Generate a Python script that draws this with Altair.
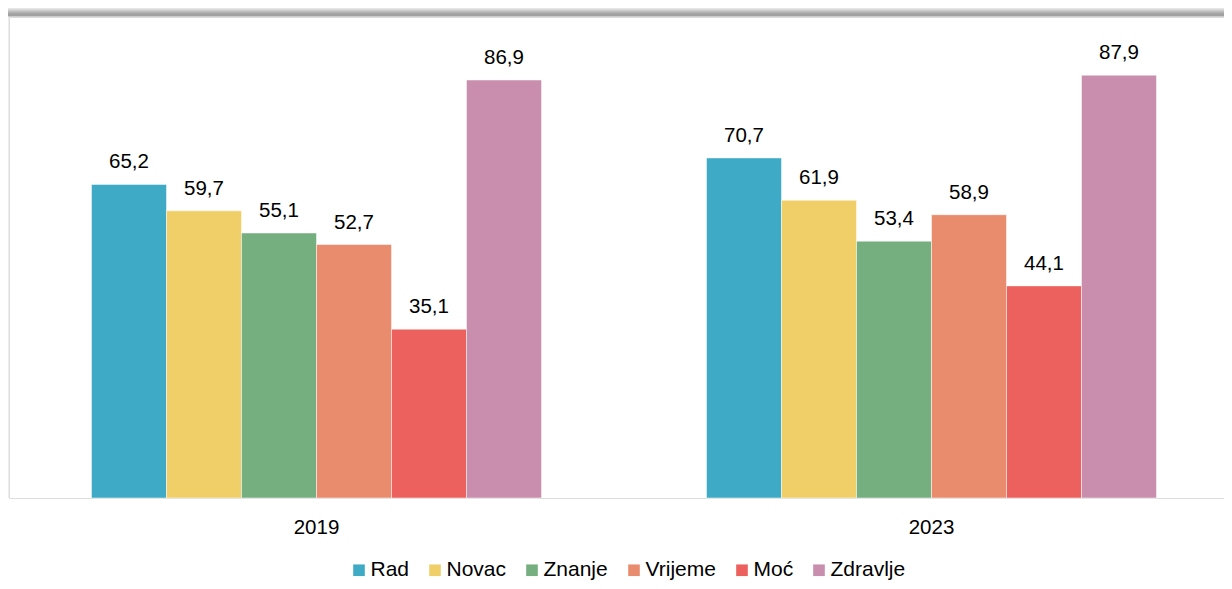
import altair as alt
import pandas as pd

years = ["2019", "2023"]
series = ["Rad", "Novac", "Znanje", "Vrijeme", "Moć", "Zdravlje"]
colors = ["#3EAAC6", "#F0CF68", "#75AF80", "#E98C6E", "#EC605D", "#C98DAD"]
values_2019 = [65.2, 59.7, 55.1, 52.7, 35.1, 86.9]
values_2023 = [70.7, 61.9, 53.4, 58.9, 44.1, 87.9]

rows = []
for s, v in zip(series, values_2019):
    rows.append({"year": "2019", "series": s, "value": v, "label": f"{v:.1f}".replace(".", ",")})
for s, v in zip(series, values_2023):
    rows.append({"year": "2023", "series": s, "value": v, "label": f"{v:.1f}".replace(".", ",")})
df = pd.DataFrame(rows)

W, H = 1215, 481
FONT = "Liberation Sans"

# frame shadow (decorative)
top_off = [-1, -2, -3, -4, -5, -6, -7, -8, -9, -10, -11, -12]
top_op = [0.40, 0.42, 0.40, 0.36, 0.30, 0.24, 0.18, 0.12, 0.08, 0.05, 0.03, 0.015]
left_off = [-1, -2, -3, -4, -5, -6]
left_op = [0.14, 0.11, 0.08, 0.05, 0.03, 0.015]
top_df = pd.DataFrame({"off": top_off, "op": top_op, "x0": [-6] * len(top_off), "x1": [W] * len(top_off)})
left_df = pd.DataFrame({"off": left_off, "op": left_op, "y0": [0] * len(left_off), "y1": [H] * len(left_off)})

top_shadow = alt.Chart(top_df).mark_rule(color="black", strokeWidth=1).encode(
    x=alt.X("x0:Q", scale=None),
    x2="x1:Q",
    y=alt.Y("off:Q", scale=None),
    strokeOpacity=alt.StrokeOpacity("op:Q", scale=None, legend=None),
)
left_shadow = alt.Chart(left_df).mark_rule(color="black", strokeWidth=1).encode(
    x=alt.X("off:Q", scale=None),
    y=alt.Y("y0:Q", scale=None),
    y2="y1:Q",
    strokeOpacity=alt.StrokeOpacity("op:Q", scale=None, legend=None),
)

xenc = alt.X(
    "year:N",
    sort=years,
    scale=alt.Scale(paddingInner=0.2683, paddingOuter=0.12195, align=0.55),
    axis=alt.Axis(
        title=None, domain=False, ticks=False, tickSize=0, labelAngle=0,
        labelFont=FONT, labelFontSize=20.5, labelColor="black", labelPadding=19,
    ),
)
xoff = alt.XOffset("series:N", sort=series, scale=alt.Scale(paddingInner=0, paddingOuter=0))
yenc = alt.Y("value:Q", scale=alt.Scale(domain=[0, 100]), axis=None)

bars = alt.Chart(df).mark_bar(stroke="white", strokeWidth=0.5).encode(
    x=xenc,
    xOffset=xoff,
    y=yenc,
    color=alt.Color(
        "series:N",
        sort=series,
        scale=alt.Scale(domain=series, range=colors),
        legend=alt.Legend(
            title=None, orient="none", direction="horizontal", columns=6,
            legendX=339.5, legendY=542.5, padding=0,
            symbolType="square", symbolSize=135, symbolStrokeWidth=0, symbolOpacity=1,
            labelFont=FONT, labelFontSize=21, labelColor="black", labelOffset=1,
            columnPadding=15,
        ),
    ),
)

labels = alt.Chart(df).mark_text(
    font=FONT, fontSize=20.5, color="black", baseline="alphabetic", dy=-16
).encode(
    x=xenc,
    xOffset=xoff,
    y=yenc,
    text="label:N",
)

chart = alt.layer(top_shadow, left_shadow, bars, labels).properties(
    width=W, height=H,
    autosize=alt.AutoSizeParams(type="none"),
    padding={"left": 1, "top": 9, "right": 0, "bottom": 83},
).configure_view(stroke="#D9D9D9", strokeWidth=1).configure(background="white")

chart.save("out.html", embed_options={"renderer": "svg", "actions": False})
